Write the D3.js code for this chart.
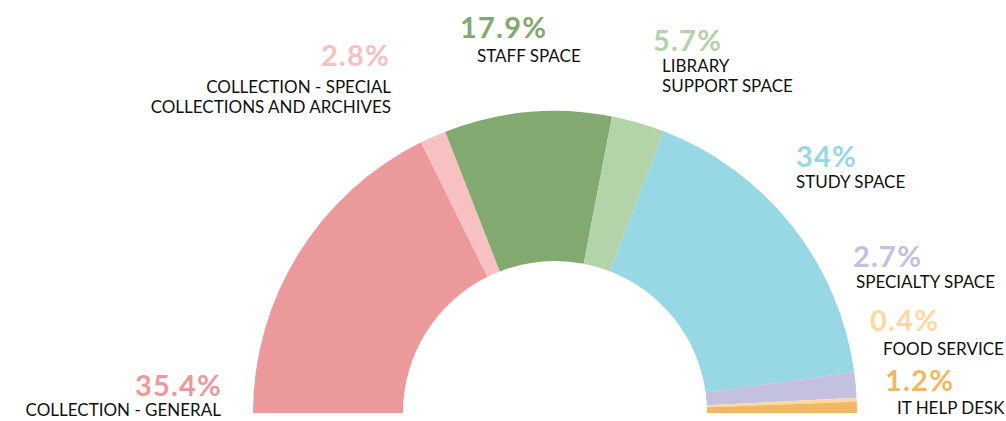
<!DOCTYPE html>
<html>
	<head>
		<title>Space Use</title>
		<script src="https://d3js.org/d3.v7.min.js"></script>
		<style>
			body {
				margin: 0;
				background: #fff;
			}
			.pct {
				font-family: Lato, sans-serif;
				font-weight: 700;
				font-size: 29px;
				letter-spacing: 1.2px;
			}
			.lbl {
				font-family: Lato, sans-serif;
				font-size: 17px;
				fill: #111;
			}
		</style>
	</head>
	<body>
		<div class="chart"></div>
		<script>
			// data
			var categories = [
				"COLLECTION - GENERAL",
				"COLLECTION - SPECIAL COLLECTIONS AND ARCHIVES",
				"STAFF SPACE",
				"LIBRARY SUPPORT SPACE",
				"STUDY SPACE",
				"SPECIALTY SPACE",
				"FOOD SERVICE",
				"IT HELP DESK"
			];
			var values = [35.4, 2.8, 17.9, 5.7, 34, 2.7, 0.4, 1.2];
			var pctLabels = ["35.4%", "2.8%", "17.9%", "5.7%", "34%", "2.7%", "0.4%", "1.2%"];
			var labelLines = [
				["COLLECTION - GENERAL"],
				["COLLECTION - SPECIAL", "COLLECTIONS AND ARCHIVES"],
				["STAFF SPACE"],
				["LIBRARY", "SUPPORT SPACE"],
				["STUDY SPACE"],
				["SPECIALTY SPACE"],
				["FOOD SERVICE"],
				["IT HELP DESK"]
			];
			var colors = ["#ec999c", "#f7c0c1", "#82a970", "#b3d3a9", "#98d8e5", "#c3c0e0", "#fcd9a0", "#f0b864"];

			// label layout: percentage anchor, text anchor, alignment
			var layout = [
				{px: 222, py: 396, tx: 221, ty: 416, anchor: "end"},
				{px: 390, py: 66, tx: 391, ty: 93, anchor: "end"},
				{px: 460, py: 38, tx: 477, ty: 62, anchor: "start"},
				{px: 653, py: 51, tx: 662, ty: 72, anchor: "start"},
				{px: 796, py: 167, tx: 796, ty: 188, anchor: "start"},
				{px: 853, py: 267, tx: 856, ty: 288, anchor: "start"},
				{px: 870, py: 331, tx: 883, ty: 355, anchor: "start"},
				{px: 885, py: 391, tx: 897, ty: 414, anchor: "start"}
			];

			var width = 1006, height = 421;
			var cx = 555, cy = 413, radius = 302, innerRadius = 152;

			var svg = d3.select(".chart").append("svg")
				.attr("width", width)
				.attr("height", height);

			var pie = d3.pie()
				.sort(null)
				.startAngle(-Math.PI / 2)
				.endAngle(Math.PI / 2)
				.value(function(d) { return d; });

			var arc = d3.arc()
				.outerRadius(radius)
				.innerRadius(innerRadius);

			var g = svg.append("g")
				.attr("transform", "translate(" + cx + "," + cy + ")");

			g.selectAll("path")
				.data(pie(values))
				.enter().append("path")
				.attr("d", arc)
				.attr("fill", function(d, i) { return colors[i]; });

			var labels = svg.append("g").attr("class", "labels");

			labels.selectAll("text.pct")
				.data(pctLabels)
				.enter().append("text")
				.attr("class", "pct")
				.attr("x", function(d, i) { return layout[i].px; })
				.attr("y", function(d, i) { return layout[i].py; })
				.attr("text-anchor", function(d, i) { return layout[i].anchor; })
				.attr("fill", function(d, i) { return colors[i]; })
				.text(function(d) { return d; });

			var lbl = labels.selectAll("text.lbl")
				.data(labelLines)
				.enter().append("text")
				.attr("class", "lbl")
				.attr("text-anchor", function(d, i) { return layout[i].anchor; });

			lbl.each(function(lines, i) {
				var t = d3.select(this);
				lines.forEach(function(line, j) {
					t.append("tspan")
						.attr("x", layout[i].tx)
						.attr("y", layout[i].ty + j * 20)
						.text(line);
				});
			});
		</script>
	</body>
</html>
